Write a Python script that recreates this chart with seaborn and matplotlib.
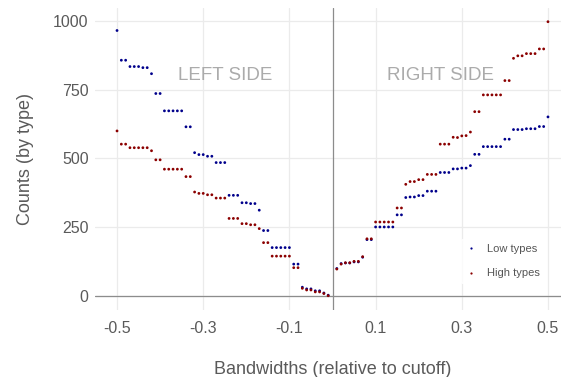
import numpy as np
import pandas as pd
import matplotlib
matplotlib.use("Agg")
import matplotlib.pyplot as plt
import seaborn as sns

# Bandwidth grid on each side of the cutoff
bw_left = np.round(np.arange(-0.50, 0.0, 0.01), 2)[:50]
bw_right = np.round(np.arange(0.01, 0.505, 0.01), 2)[:50]

# Counts of low / high types inside each bandwidth
low_left = [965, 857, 857, 834, 834, 834, 830, 830, 808, 736,
            736, 673, 673, 673, 673, 673, 615, 615, 521, 514,
            514, 508, 508, 485, 485, 485, 366, 366, 366, 339,
            339, 336, 336, 312, 238, 238, 176, 176, 176, 176,
            176, 116, 116, 32, 26, 26, 19, 19, 11, 3]
high_left = [600, 552, 552, 539, 539, 539, 539, 539, 528, 495,
             495, 461, 461, 461, 461, 461, 434, 434, 378, 373,
             373, 368, 368, 356, 356, 356, 282, 282, 282, 263,
             263, 259, 259, 245, 194, 194, 145, 145, 145, 145,
             145, 103, 103, 28, 22, 22, 15, 15, 9, 1]
low_right = [100, 118, 120, 120, 124, 124, 141, 205, 205, 251,
             251, 251, 251, 251, 295, 295, 358, 360, 360, 365,
             365, 381, 381, 381, 449, 449, 449, 462, 462, 465,
             465, 474, 515, 515, 543, 543, 543, 543, 543, 570,
             570, 605, 605, 605, 608, 608, 608, 616, 616, 651]
high_right = [98, 116, 121, 121, 126, 126, 143, 208, 208, 269,
              269, 269, 269, 269, 320, 320, 406, 416, 416, 423,
              423, 442, 442, 442, 552, 552, 552, 577, 576, 582,
              583, 596, 670, 670, 731, 731, 731, 731, 731, 783,
              783, 864, 873, 873, 881, 881, 881, 898, 898, 997]

type_names = ["Low types", "High types"]
type_colors = ["#00008B", "#8B0000"]

bandwidth = np.concatenate([bw_left, bw_right])
df = pd.concat([
    pd.DataFrame({"bandwidth": bandwidth,
                  "count": low_left + low_right,
                  "type": type_names[0]}),
    pd.DataFrame({"bandwidth": bandwidth,
                  "count": high_left + high_right,
                  "type": type_names[1]}),
], ignore_index=True)

sns.set_theme(style="white")
plt.rcParams["font.family"] = ["Liberation Sans", "DejaVu Sans"]

fig = plt.figure(figsize=(5.61, 3.77), dpi=100)
ax = fig.add_axes([0.1702, 0.1784, 0.845, 0.8004])

grid_col = "#EBEBEB"
for gx in [-0.5, -0.3, -0.1, 0.1, 0.3, 0.5]:
    ax.axvline(gx, color=grid_col, lw=0.9, zorder=0)
for gy in [0, 250, 500, 750, 1000]:
    ax.axhline(gy, color=grid_col, lw=0.9, zorder=0)

ax.axhline(0, color="#8C8C8C", lw=0.9, zorder=1)
ax.axvline(0, color="#8C8C8C", lw=0.9, zorder=1)

sns.scatterplot(data=df, x="bandwidth", y="count", hue="type",
                hue_order=type_names, palette=dict(zip(type_names, type_colors)),
                s=4, linewidth=0, marker="o", ax=ax, zorder=3)

ax.text(-0.25, 800, "LEFT SIDE", color="#ABABAB", fontsize=13.5,
        ha="center", va="center")
ax.text(0.25, 800, "RIGHT SIDE", color="#ABABAB", fontsize=13.5,
        ha="center", va="center")

ax.set_xlim(-0.55, 0.55)
ax.set_ylim(-49.85, 1046.85)
ax.set_xticks([-0.5, -0.3, -0.1, 0.1, 0.3, 0.5])
ax.set_xticklabels(["-0.5", "-0.3", "-0.1", "0.1", "0.3", "0.5"])
ax.set_yticks([0, 250, 500, 750, 1000])
ax.tick_params(axis="both", length=0, labelsize=11.5, colors="#5A5A5A")
ax.tick_params(axis="x", pad=8)
ax.tick_params(axis="y", pad=5)
for s in ax.spines.values():
    s.set_visible(False)

ax.set_xlabel("Bandwidths (relative to cutoff)", fontsize=13,
              color="#5A5A5A", labelpad=18)
ax.set_ylabel("Counts (by type)", fontsize=13, color="#5A5A5A",
              labelpad=14)

handles, labels = ax.get_legend_handles_labels()
leg = ax.legend(handles, labels, loc="center left",
                bbox_to_anchor=(455 / 561, 1 - 261 / 377),
                bbox_transform=fig.transFigure, frameon=True,
                fontsize=8, labelspacing=1.35, handletextpad=1.0,
                handlelength=1.0, markerscale=0.8, borderpad=0.4)
leg.get_frame().set_facecolor("white")
leg.get_frame().set_edgecolor("white")
for t in leg.get_texts():
    t.set_color("#555555")

fig.savefig("out.png", dpi=100)
